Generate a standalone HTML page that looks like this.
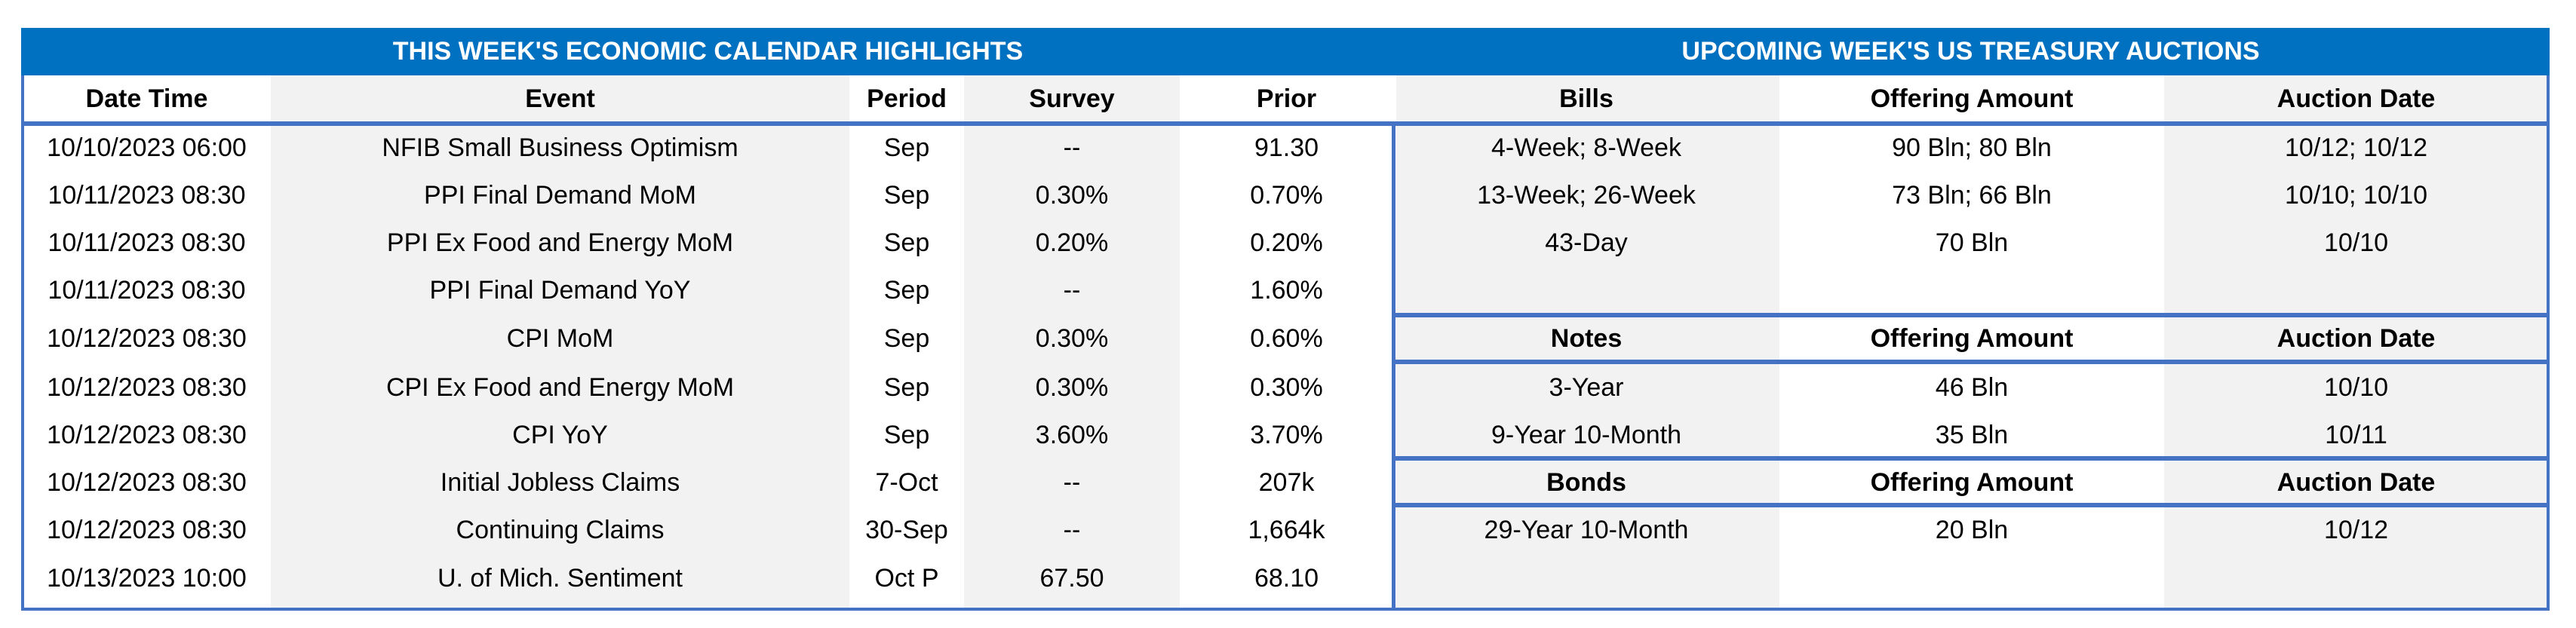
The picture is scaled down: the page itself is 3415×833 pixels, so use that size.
<!DOCTYPE html>
<html><head><meta charset="utf-8"><style>
body{margin:0;width:3415px;height:833px;background:#fff;position:relative;overflow:hidden;font-family:"Liberation Sans",Arial,sans-serif;}
div{position:absolute;box-sizing:border-box}
.bg{background:#F2F2F2}
.t{font-size:34px;color:#000;text-align:center;line-height:63px;white-space:nowrap}
.h{font-weight:bold}
.bl{background:#4472C4}
</style></head><body>
<div style="left:28px;top:37px;width:3352px;height:773px;border:4px solid #4472C4;"></div>
<div style="left:28px;top:37px;width:3352px;height:63px;background:#0070C0;"></div>
<div style="left:30px;top:37px;width:1817px;height:63px;color:#fff;font-weight:bold;font-size:34px;line-height:63px;text-align:center;">THIS WEEK'S ECONOMIC CALENDAR HIGHLIGHTS</div>
<div style="left:1847px;top:37px;width:1531px;height:63px;color:#fff;font-weight:bold;font-size:34px;line-height:63px;text-align:center;">UPCOMING WEEK'S US TREASURY AUCTIONS</div>
<div class="bg" style="left:359px;top:100px;width:767px;height:706px"></div>
<div class="bg" style="left:1278px;top:100px;width:286px;height:706px"></div>
<div class="bg" style="left:1851px;top:100px;width:508px;height:706px"></div>
<div class="bg" style="left:2869px;top:100px;width:507px;height:706px"></div>
<div class="bl" style="left:30px;top:161px;width:3348px;height:6px"></div>
<div class="bl" style="left:1845px;top:161px;width:5px;height:647px"></div>
<div class="bl" style="left:1847px;top:415px;width:1531px;height:6px"></div>
<div class="bl" style="left:1847px;top:477px;width:1531px;height:6px"></div>
<div class="bl" style="left:1847px;top:605px;width:1531px;height:6px"></div>
<div class="bl" style="left:1847px;top:667px;width:1531px;height:6px"></div>
<script>
function cell(x,w,y,txt,bold){var d=document.createElement('div');d.className='t'+(bold?' h':'');d.style.left=x+'px';d.style.width=w+'px';d.style.top=(y-31.5)+'px';d.style.height='63px';d.textContent=txt;document.body.appendChild(d);}
var lc=[[30,329],[359,767],[1126,152],[1278,286],[1564,283]];
var rc=[[1847,512],[2359,510],[2869,509]];
var hdr=["Date Time","Event","Period","Survey","Prior"];
hdr.forEach(function(t,i){cell(lc[i][0],lc[i][1],131,t,true)});
var rows=[["10/10/2023 06:00","NFIB Small Business Optimism","Sep","--","91.30"],
["10/11/2023 08:30","PPI Final Demand MoM","Sep","0.30%","0.70%"],
["10/11/2023 08:30","PPI Ex Food and Energy MoM","Sep","0.20%","0.20%"],
["10/11/2023 08:30","PPI Final Demand YoY","Sep","--","1.60%"],
["10/12/2023 08:30","CPI MoM","Sep","0.30%","0.60%"],
["10/12/2023 08:30","CPI Ex Food and Energy MoM","Sep","0.30%","0.30%"],
["10/12/2023 08:30","CPI YoY","Sep","3.60%","3.70%"],
["10/12/2023 08:30","Initial Jobless Claims","7-Oct","--","207k"],
["10/12/2023 08:30","Continuing Claims","30-Sep","--","1,664k"],
["10/13/2023 10:00","U. of Mich. Sentiment","Oct P","67.50","68.10"]];
var ys=[196,259,322,385,449,514,577,640,703,767];
rows.forEach(function(r,j){r.forEach(function(t,i){cell(lc[i][0],lc[i][1],ys[j],t,false)})});
var R=[[131,["Bills","Offering Amount","Auction Date"],1],
[196,["4-Week; 8-Week","90 Bln; 80 Bln","10/12; 10/12"],0],
[259,["13-Week; 26-Week","73 Bln; 66 Bln","10/10; 10/10"],0],
[322,["43-Day","70 Bln","10/10"],0],
[449,["Notes","Offering Amount","Auction Date"],1],
[514,["3-Year","46 Bln","10/10"],0],
[577,["9-Year 10-Month","35 Bln","10/11"],0],
[640,["Bonds","Offering Amount","Auction Date"],1],
[703,["29-Year 10-Month","20 Bln","10/12"],0]];
R.forEach(function(r){r[1].forEach(function(t,i){cell(rc[i][0],rc[i][1],r[0],t,r[2])})});
</script>
</body></html>
